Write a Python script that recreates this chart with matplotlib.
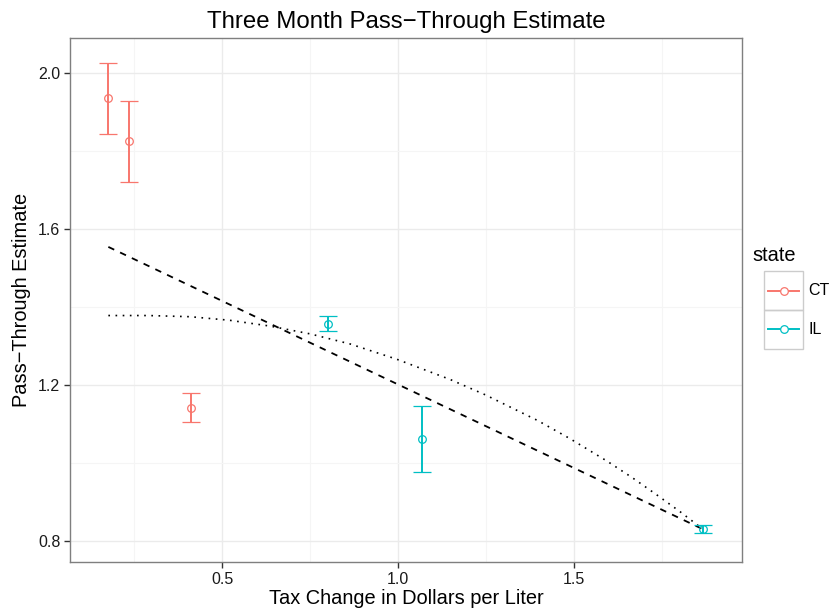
import numpy as np
import matplotlib
matplotlib.use('Agg')
import matplotlib.pyplot as plt
from matplotlib.lines import Line2D
from matplotlib.patches import Rectangle

# Pass-through estimates
states = ['CT', 'CT', 'CT', 'IL', 'IL', 'IL']
tax_change = [0.177, 0.237, 0.412, 0.800, 1.067, 1.866]
estimate = [1.935, 1.825, 1.142, 1.356, 1.062, 0.831]
ci_low = [1.843, 1.720, 1.106, 1.338, 0.978, 0.8205]
ci_high = [2.026, 1.929, 1.179, 1.377, 1.145, 0.841]

# fitted lines
linear_fit_x = [0.177, 1.866]
linear_fit_y = [1.554, 0.830]
quad_fit_x = [0.177, 0.290, 0.409, 0.520, 0.636, 0.750, 0.864, 0.996, 1.148,
              1.247, 1.396, 1.487, 1.593, 1.664, 1.732, 1.801, 1.866]
quad_fit_y = [1.378, 1.378, 1.375, 1.366, 1.351, 1.331, 1.305, 1.266, 1.214,
              1.175, 1.109, 1.063, 1.005, 0.963, 0.920, 0.875, 0.830]

state_order = ['CT', 'IL']
state_colors = {'CT': '#F8766D', 'IL': '#00BFC4'}

x_ticks = [0.5, 1.0, 1.5]
y_ticks = [0.8, 1.2, 1.6, 2.0]

plt.rcParams['font.family'] = ['Liberation Sans', 'DejaVu Sans']


def main():
    x = np.array(tax_change)
    y = np.array(estimate)
    lo = np.array(ci_low)
    hi = np.array(ci_high)

    fig = plt.figure(figsize=(8.34, 6.09), dpi=100)
    ax = fig.add_axes([0.0839, 0.0772, 0.8058, 0.8604])

    # error bars with open circles, one colour per state
    for st in state_order:
        idx = [i for i, s in enumerate(states) if s == st]
        c = state_colors[st]
        ax.errorbar(x[idx], y[idx], yerr=[y[idx] - lo[idx], hi[idx] - y[idx]],
                    fmt='o', mfc='none', mec=c, ms=5.5, mew=0.9,
                    ecolor=c, elinewidth=1.4, capsize=6.3, capthick=1.4, zorder=3)

    ax.plot(linear_fit_x, linear_fit_y, color='black', lw=1.3, ls=(0, (3.6, 3.6)), zorder=2)
    ax.plot(quad_fit_x, quad_fit_y, color='black', lw=1.2, ls=(0, (1, 3.3)), zorder=2)

    ax.set_xlim(0.068, 1.977)
    ax.set_ylim(0.746, 2.0897)
    ax.set_xticks(x_ticks)
    ax.set_xticklabels(['0.5', '1.0', '1.5'])
    ax.set_yticks(y_ticks)
    ax.set_yticklabels(['0.8', '1.2', '1.6', '2.0'])
    ax.set_xticks([0.25, 0.75, 1.25, 1.75], minor=True)
    ax.set_yticks([1.0, 1.4, 1.8], minor=True)

    ax.grid(True, which='major', color='#EBEBEB', lw=1.0)
    ax.grid(True, which='minor', color='#F5F5F5', lw=0.8)
    ax.set_axisbelow(True)
    for sp in ax.spines.values():
        sp.set_color('#7F7F7F')
        sp.set_linewidth(1.0)
    ax.tick_params(which='major', length=4, width=1, color='#333333',
                   labelsize=11.5, labelcolor='#1a1a1a', pad=3)
    ax.tick_params(which='minor', length=0)

    ax.set_title('Three Month Pass\u2212Through Estimate', fontsize=17.3, pad=7)
    ax.set_xlabel('Tax Change in Dollars per Liter', fontsize=14.4, labelpad=2)
    ax.set_ylabel('Pass\u2212Through Estimate', fontsize=14.4, labelpad=5)

    # legend drawn by hand to get the boxed keys
    W, H = 834, 609
    fig.text(752 / W, 1 - 256 / H, 'state', fontsize=14.4, va='center', ha='left')
    key_w, key_h = 39, 39
    for k, st in enumerate(state_order):
        x0 = 764
        y0 = 271 + k * key_h
        fig.add_artist(Rectangle((x0 / W, 1 - (y0 + key_h) / H), key_w / W, key_h / H,
                                 transform=fig.transFigure, fill=False,
                                 edgecolor='#CCCCCC', lw=1.0))
        cy = 1 - (y0 + key_h / 2) / H
        fig.add_artist(Line2D([(x0 + 4) / W, (x0 + key_w - 4) / W], [cy, cy],
                              transform=fig.transFigure, color=state_colors[st], lw=1.4))
        fig.add_artist(Line2D([(x0 + key_w / 2) / W], [cy], transform=fig.transFigure,
                              marker='o', mfc='white', mec=state_colors[st], ms=5.5, mew=0.9))
        fig.text((x0 + key_w + 5) / W, cy, st, fontsize=11.5, va='center', ha='left')

    fig.savefig('out.png', dpi=100, facecolor='white')


if __name__ == '__main__':
    main()
